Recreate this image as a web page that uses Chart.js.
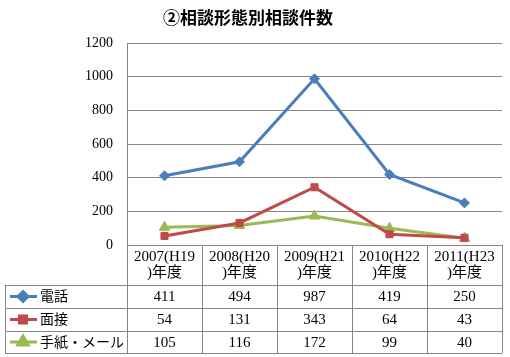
<!DOCTYPE html>
<html>
<head>
<meta charset="utf-8">
<script src="https://cdn.jsdelivr.net/npm/chart.js@4/dist/chart.umd.min.js"></script>
<style>
  html, body { margin: 0; padding: 0; background: #fff; }
  #wrap { width: 510px; height: 357px; }
</style>
</head>
<body>
<div id="wrap"><canvas id="chart" width="510" height="357"></canvas></div>
<script>
const title = "②相談形態別相談件数";
const categories = [["2007(H19", ")年度"], ["2008(H20", ")年度"], ["2009(H21", ")年度"], ["2010(H22", ")年度"], ["2011(H23", ")年度"]];
const seriesNames = ["電話", "面接", "手紙・メール"];
const phone = [411, 494, 987, 419, 250];
const visit = [54, 131, 343, 64, 43];
const letter = [105, 116, 172, 99, 40];
const yTicks = [0, 200, 400, 600, 800, 1000, 1200];

const colors = ["#4A7EBB", "#BE4B48", "#98B954"];
const markers = ["rectRot", "rect", "triangle"];
const markerSizes = [5, 5, 6];
const gridColor = "#868686";
const fontFamily = '"Liberation Serif", "Noto Sans CJK JP", serif';

// draws the title and the data table under the plot
const tablePlugin = {
    id: "dataTable",
    afterDraw(chart) {
        const ctx = chart.ctx;
        const area = chart.chartArea;
        const xs = chart.scales.x;
        const colW = (area.right - area.left) / categories.length;
        const headTop = area.bottom;
        const rowLines = [285, 308, 331, 353];
        const legendLeft = 5;

        ctx.save();
        // title
        ctx.fillStyle = "#000";
        ctx.font = 'bold 17px "Noto Sans CJK JP", sans-serif';
        ctx.textAlign = "center";
        ctx.textBaseline = "middle";
        ctx.fillText(title, 248, 18);

        // grid lines of the table
        ctx.strokeStyle = gridColor;
        ctx.lineWidth = 1;
        ctx.beginPath();
        for (let i = 0; i <= categories.length; i++) {
            const x = Math.round(area.left + i * colW) + 0.5;
            ctx.moveTo(x, headTop);
            ctx.lineTo(x, rowLines[rowLines.length - 1]);
        }
        rowLines.forEach(y => {
            ctx.moveTo(legendLeft, y + 0.5);
            ctx.lineTo(area.right + 0.5, y + 0.5);
        });
        ctx.moveTo(legendLeft + 0.5, rowLines[0]);
        ctx.lineTo(legendLeft + 0.5, rowLines[rowLines.length - 1]);
        ctx.stroke();

        // header labels
        ctx.fillStyle = "#000";
        ctx.font = "15px " + fontFamily;
        categories.forEach((lines, i) => {
            const cx = xs.getPixelForValue(i);
            ctx.fillText(lines[0], cx, 257);
            ctx.fillText(lines[1], cx, 273);
        });

        // data rows
        chart.data.datasets.forEach((ds, r) => {
            const cy = (rowLines[r] + rowLines[r + 1]) / 2 + 1;
            ctx.font = "15px " + fontFamily;
            ds.data.forEach((v, i) => {
                ctx.textAlign = "center";
                ctx.fillText(String(v), xs.getPixelForValue(i), cy);
            });
            // legend key
            ctx.strokeStyle = colors[r];
            ctx.lineWidth = 3;
            ctx.beginPath();
            ctx.moveTo(10, cy - 1);
            ctx.lineTo(37, cy - 1);
            ctx.stroke();
            Chart.helpers.drawPoint(ctx, {
                pointStyle: markers[r],
                radius: markerSizes[r],
                rotation: 0,
                borderWidth: 1
            }, 23, cy - 1);
            ctx.fillStyle = colors[r];
            ctx.fill();
            ctx.fillStyle = "#000";
            ctx.textAlign = "left";
            ctx.font = "14px " + fontFamily;
            ctx.fillText(ds.label, 40, cy);
        });
        ctx.restore();
    }
};

const ctx = document.getElementById("chart").getContext("2d");
new Chart(ctx, {
    type: "line",
    data: {
        labels: categories.map(c => c.join("")),
        datasets: [phone, visit, letter].map((values, i) => ({
            label: seriesNames[i],
            data: values,
            borderColor: colors[i],
            backgroundColor: colors[i],
            borderWidth: 3,
            pointStyle: markers[i],
            pointRadius: markerSizes[i],
            pointBorderWidth: 1,
            tension: 0
        }))
    },
    options: {
        responsive: false,
        animation: false,
        layout: { padding: { top: 43, right: 8, bottom: 112, left: 0 } },
        plugins: {
            legend: { display: false },
            tooltip: { enabled: false }
        },
        scales: {
            x: {
                display: false,
                offset: true
            },
            y: {
                min: 0,
                max: 1200,
                afterBuildTicks: s => { s.ticks = yTicks.map(v => ({ value: v })); },
                afterFit: s => { s.width = 127; },
                grid: { color: gridColor, drawTicks: false },
                border: { color: gridColor },
                ticks: {
                    padding: 14,
                    color: "#000",
                    font: { family: fontFamily, size: 14 },
                    callback: v => String(v)
                }
            }
        }
    },
    plugins: [tablePlugin]
});
</script>
</body>
</html>
